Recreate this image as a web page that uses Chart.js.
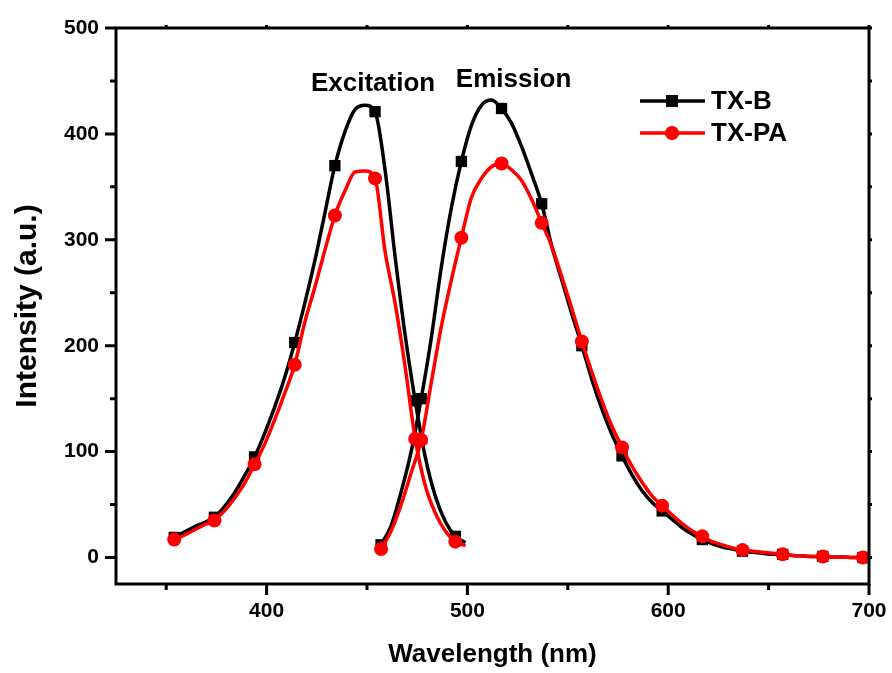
<!DOCTYPE html>
<html>
<head>
<meta charset="utf-8">
<script src="https://cdn.jsdelivr.net/npm/chart.js@4.4.1/dist/chart.umd.min.js"></script>
<style>
html,body{margin:0;padding:0;background:#fff;}
#wrap{width:892px;height:673px;}
</style>
</head>
<body>
<div id="wrap"><canvas id="c" width="892" height="673"></canvas></div>
<script>
// ---- data ----
const excWavelengths = [354,359,364,369,374,379,384,389,394,399,404,409,414,419,424,429,434,439,444,449,454,459,464,469,474,479,484,489,494,499];
const emWavelengths = [457,462,467,472,477,482,487,492,497,502,507,512,517,522,527,532,537,542,547,552,557,562,567,572,577,582,587,592,597,602,607,612,617,622,627,632,637,642,647,652,657,662,667,672,677,682,687,692,697];
const txbExcitation = [19,24,29,33,38,48,61,77,95,117,142,170,203,240,280,325,370,402,423,427,421,366,284,210,148,95,58,34,20,14];
const txpaExcitation = [17,21,26,31,35,44,56,70,88,107,130,155,182,222,255,290,323,346,364,365,358,289,240,180,112,68,42,25,15,11];
const txbEmission = [12,30,62,100,150,207,274,330,374,408,427,432,424,410,388,362,334,294,262,230,200,168,140,116,96,78,63,52,44,36,28,22,17,13,10,8,6,5,4,3,3,2,1.5,1,1,0.5,0.5,0,0];
const txpaEmission = [8,25,50,80,111,165,218,262,302,340,358,369,372,366,356,338,316,294,265,235,204,175,148,124,104,86,71,58,49,40,32,25,20,15,12,9,7,6,5,4,3,2,1.5,1,1,0.5,0.3,0,0];
const seriesNames = ['TX-B', 'TX-PA'];
const bandNames = ['Excitation', 'Emission'];
const xTickValues = [400, 500, 600, 700];
const yTickValues = [0, 100, 200, 300, 400, 500];

const FONT = '"Liberation Sans", Arial, sans-serif';
const toPts = (xs, ys) => xs.map((x, i) => ({x: x, y: ys[i]}));
const markerEvery = r => (c) => (c.dataIndex % 4 === 0 ? r : 0);

const BLACK = '#000000';
const RED = '#ff0000';

function lineDs(label, xs, ys, color, style, r, order) {
  return {
    label: label,
    data: toPts(xs, ys),
    borderColor: color,
    backgroundColor: color,
    pointBackgroundColor: color,
    pointBorderColor: color,
    pointBorderWidth: 0,
    pointStyle: style,
    pointRadius: markerEvery(r),
    pointHoverRadius: markerEvery(r),
    borderWidth: 3.5,
    cubicInterpolationMode: 'monotone',
    fill: false,
    order: order
  };
}

const framePlugin = {
  id: 'frame',
  afterDraw(chart, args, opts) {
    const {ctx, chartArea: a, scales: {x, y}} = chart;
    ctx.save();
    ctx.strokeStyle = '#000';
    ctx.lineWidth = 3;
    ctx.lineCap = 'butt';
    ctx.strokeRect(a.left, a.top, a.right - a.left, a.bottom - a.top);
    // x ticks
    for (let v = Math.ceil(x.min / 50) * 50; v <= x.max; v += 50) {
      const px = x.getPixelForValue(v);
      const len = v % 100 === 0 ? 11 : 6;
      ctx.beginPath();
      ctx.moveTo(px, a.bottom); ctx.lineTo(px, a.bottom + len);
      ctx.moveTo(px, a.top); ctx.lineTo(px, a.top - 3);
      ctx.stroke();
    }
    for (let v = Math.ceil(y.min / 50) * 50; v <= y.max; v += 50) {
      const py = y.getPixelForValue(v);
      const len = v % 100 === 0 ? 11 : 6;
      ctx.beginPath();
      ctx.moveTo(a.left, py); ctx.lineTo(a.left - len, py);
      ctx.moveTo(a.right, py); ctx.lineTo(a.right + 3, py);
      ctx.stroke();
    }
    // band labels
    ctx.fillStyle = '#000';
    ctx.font = 'bold 26px ' + FONT;
    ctx.textAlign = 'center';
    ctx.textBaseline = 'middle';
    opts.bands.forEach(b => {
      ctx.fillText(b.text, x.getPixelForValue(b.x), y.getPixelForValue(b.y));
    });
    // legend
    opts.legend.forEach((it, i) => {
      const ly = opts.legendY + i * opts.legendGap;
      ctx.strokeStyle = it.color;
      ctx.fillStyle = it.color;
      ctx.lineWidth = 3.5;
      ctx.beginPath();
      ctx.moveTo(opts.legendX, ly); ctx.lineTo(opts.legendX + 65, ly);
      ctx.stroke();
      const mx = opts.legendX + 32;
      if (it.style === 'rect') {
        ctx.fillRect(mx - 6, ly - 6, 12, 12);
      } else {
        ctx.beginPath(); ctx.arc(mx, ly, 7, 0, Math.PI * 2); ctx.fill();
      }
      ctx.fillStyle = '#000';
      ctx.textAlign = 'left';
      ctx.textBaseline = 'middle';
      ctx.font = 'bold 26px ' + FONT;
      ctx.fillText(it.text, opts.legendX + 71, ly + 1);
    });
    ctx.restore();
  }
};

new Chart(document.getElementById('c'), {
  type: 'line',
  data: {
    datasets: [
      lineDs(seriesNames[1], excWavelengths, txpaExcitation, RED, 'circle', 7, 0),
      lineDs(seriesNames[1], emWavelengths, txpaEmission, RED, 'circle', 7, 0),
      lineDs(seriesNames[0], excWavelengths, txbExcitation, BLACK, 'rect', 8, 1),
      lineDs(seriesNames[0], emWavelengths, txbEmission, BLACK, 'rect', 8, 1)
    ]
  },
  options: {
    responsive: false,
    animation: false,
    events: [],
    layout: {padding: {left: 0, top: 28, right: 23, bottom: 0}},
    plugins: {
      legend: {display: false},
      tooltip: {enabled: false},
      frame: {
        bands: [
          {text: bandNames[0], x: 453, y: 447},
          {text: bandNames[1], x: 523, y: 451}
        ],
        legend: [
          {text: seriesNames[0], color: BLACK, style: 'rect'},
          {text: seriesNames[1], color: RED, style: 'circle'}
        ],
        legendX: 640, legendY: 101, legendGap: 32
      }
    },
    scales: {
      x: {
        type: 'linear', min: 325, max: 700,
        afterBuildTicks: s => { s.ticks = xTickValues.map(v => ({value: v})); },
        afterFit: s => { s.height = 89; s.paddingLeft = 0; s.paddingRight = 0; },
        grid: {display: false, drawTicks: false},
        border: {display: false},
        ticks: {color: '#000', font: {family: FONT, size: 21, weight: 'bold'}, padding: 15, maxRotation: 0, autoSkip: false},
        title: {display: true, text: 'Wavelength (nm)', color: '#000', font: {family: FONT, size: 26, weight: 'bold'}, padding: {top: 0, bottom: 3}}
      },
      y: {
        type: 'linear', min: -25, max: 500,
        afterBuildTicks: s => { s.ticks = yTickValues.map(v => ({value: v})); },
        afterFit: s => { s.width = 116; s.paddingTop = 0; s.paddingBottom = 0; },
        grid: {display: false, drawTicks: false},
        border: {display: false},
        ticks: {color: '#000', font: {family: FONT, size: 21, weight: 'bold'}, padding: 17, autoSkip: false},
        title: {display: true, text: 'Intensity (a.u.)', color: '#000', font: {family: FONT, size: 30, weight: 'bold'}, padding: {top: 10, bottom: 0}}
      }
    }
  },
  plugins: [framePlugin]
});
</script>
</body>
</html>
